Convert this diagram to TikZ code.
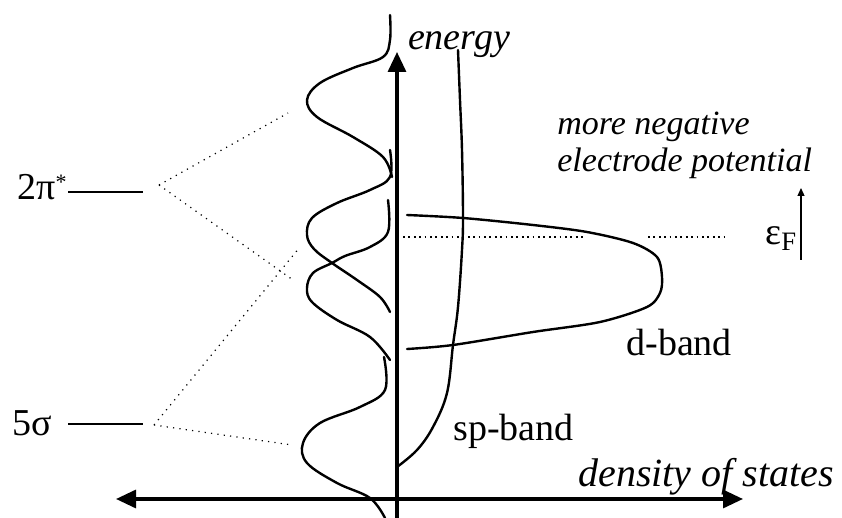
\documentclass[tikz,border=0pt]{standalone}
\usepackage{fontspec}
\setmainfont{Liberation Serif}
\usetikzlibrary{arrows.meta}

\begin{document}
\begin{tikzpicture}[x=0.5pt, y=-0.5pt,
  every node/.style={font=\fontsize{19}{21}\selectfont, inner sep=0pt},
  axis/.style={line width=1.6pt},
  band/.style={line width=1.2pt, line join=round, line cap=round},
  level/.style={line width=1.4pt},
  mix/.style={line width=0.6pt, dash pattern=on 0.6pt off 2.6pt},
  fermi/.style={line width=0.6pt, dash pattern=on 0.9pt off 1.8pt},
  bigtip/.style={-{Triangle[length=10pt,width=9pt]}},
  twotip/.style={{Triangle[length=10pt,width=9pt]}-{Triangle[length=10pt,width=9pt]}},
]
\useasboundingbox (0,0) rectangle (842,518);

% axes
\coordinate (Ebot) at (397,518);
\coordinate (Etop) at (397,52);
\coordinate (Dleft) at (116,499);
\coordinate (Dright) at (743,499);
\draw[axis, bigtip] (Ebot) -- (Etop);
\draw[axis, twotip] (Dleft) -- (Dright);

\node[anchor=base, font=\fontsize{19}{21}\selectfont\itshape] (energy) at (459,50) {energy};
\node[anchor=base west, font=\fontsize{20}{22}\selectfont\itshape] (dos) at (578,487) {density of states};

% molecular levels
\node[anchor=base west] (pi) at (17,200) {2π\raisebox{5pt}{\fontsize{11}{11}\selectfont *}};
\node[anchor=base west] (sigma) at (12,436) {5σ};
\coordinate (piA) at (68,192);   \coordinate (piB) at (143,192);
\coordinate (sigA) at (68,424);  \coordinate (sigB) at (143,424);
\draw[level] (piA) -- (piB);
\draw[level] (sigA) -- (sigB);

% resonances on the surface
\draw[band] plot[smooth, tension=0.6] coordinates {(390,15) (390,40) (383,57) (353,68) (320,83)
  (307,100) (317,117) (353,137) (383,157) (392,177)};
\draw[band] plot[smooth, tension=0.6] coordinates {(390,150) (390,177) (370,190) (337,203) (312,218)
  (307,235) (314,249) (332,263) (357,280) (380,297) (390,312)};
\draw[band] plot[smooth, tension=0.6] coordinates {(388,200) (388,232) (370,247) (345,256) (332,263)
  (313,273) (307,288) (312,302) (337,320) (370,337) (390,360)};
\draw[band] plot[smooth, tension=0.6] coordinates {(384,357) (385,390) (360,407) (320,423)
  (303,443) (307,463) (337,483) (370,498) (385,518)};

% metal bands
\draw[band] plot[smooth, tension=0.6] coordinates {(458,50) (460,100) (462,150) (463,217)
  (462,250) (458,307) (453,345) (447,393) (433,427) (417,450) (397,467)};
\draw[band] plot[smooth, tension=0.5] coordinates {(407,215) (463,218) (533,225) (587,232)
  (633,243) (657,257) (662,277) (660,293) (647,307) (600,322) (533,332) (453,345) (407,349)};
\node[anchor=base west] (sp) at (453,441) {sp-band};
\node[anchor=base west] (d) at (626,356) {d-band};

% mixing lines
\coordinate (piFan) at (159,185);
\coordinate (sigFan) at (154,425);
\coordinate (piHi) at (288,113);
\coordinate (piLo) at (293,280);
\coordinate (sigHi) at (300,247);
\coordinate (sigLo) at (292,445);
\draw[mix] (piFan) -- (piHi);
\draw[mix] (piFan) -- (piLo);
\draw[mix] (sigFan) -- (sigHi);
\draw[mix] (sigFan) -- (sigLo);

% Fermi level
\coordinate (fA) at (403,237);  \coordinate (fB) at (585,237);
\coordinate (fC) at (648,237);  \coordinate (fD) at (728,237);
\draw[fermi] (fA) -- (fB);
\draw[fermi] (fC) -- (fD);
\node[anchor=base west] (eF) at (765,245) {ε\textsubscript{F}};
\coordinate (potBot) at (801,260);
\coordinate (potTop) at (801,188);
\draw[line width=0.6pt, -{Triangle[length=4pt,width=3.5pt]}] (potBot) -- (potTop);
\node[anchor=base west, align=left, font=\fontsize{17}{18.5}\selectfont\itshape] (pot) at (557,172)
  {more negative\\electrode potential};

\end{tikzpicture}
\end{document}
